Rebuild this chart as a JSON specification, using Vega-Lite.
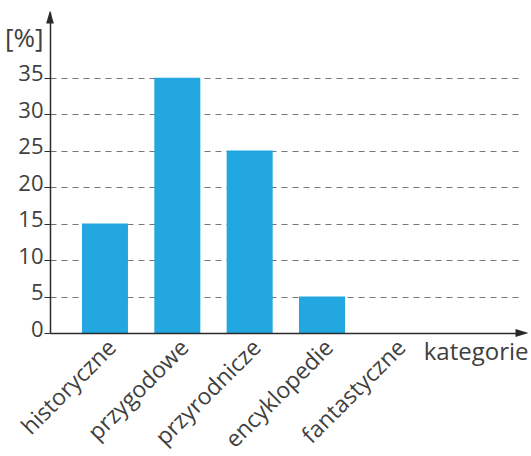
{
  "$schema": "https://vega.github.io/schema/vega-lite/v6.json",
  "width": 472,
  "height": 321,
  "autosize": "none",
  "padding": {"left": 50, "top": 12, "right": 9, "bottom": 123},
  "config": {"view": {"stroke": null}, "font": "Open Sans"},
  "layer": [
    {
      "data": {"values": [
        {"kategoria": "historyczne", "procent": 15},
        {"kategoria": "przygodowe", "procent": 35},
        {"kategoria": "przyrodnicze", "procent": 25},
        {"kategoria": "encyklopedie", "procent": 5},
        {"kategoria": "fantastyczne", "procent": 0}
      ]},
      "mark": {"type": "bar", "color": "#22a7e0"},
      "encoding": {
        "x": {
          "field": "kategoria", "type": "nominal", "sort": null,
          "scale": {"paddingInner": 0.364, "paddingOuter": 0.944, "align": 0.234},
          "axis": {
            "title": "kategorie", "titleAngle": 0, "titleAlign": "right", "titleX": 478, "titleY": 26,
            "titleBaseline": "alphabetic", "titleFontSize": 24, "titleFontWeight": "normal", "titleColor": "#404040",
            "labelAngle": -45, "labelFontSize": 23, "labelColor": "#404040", "ticks": false, "labelPadding": 3,
            "domainColor": "#2a2a2a", "domainWidth": 1.5, "zindex": 1, "grid": false
          }
        },
        "y": {
          "field": "procent", "type": "quantitative",
          "scale": {"domain": [0, 44], "nice": false},
          "axis": {
            "title": "[%]", "titleAngle": 0, "titleAlign": "right", "titleBaseline": "middle", "titleX": -7, "titleY": 26,
            "titleFontSize": 26, "titleFontWeight": "normal", "titleColor": "#404040",
            "values": [0, 5, 10, 15, 20, 25, 30, 35],
            "grid": true, "gridDash": [6, 5], "gridColor": "#777777",
            "labelFontSize": 22, "labelColor": "#404040", "labelPadding": 1, "labelOffset": -4,
            "tickSize": 6, "tickColor": "#2a2a2a", "domainColor": "#2a2a2a", "domainWidth": 1.5
          }
        }
      }
    },
    {
      "data": {"values": [
        {"ax": 0, "ay": 43.3, "kierunek": "up"},
        {"ax": 1, "ay": 0, "kierunek": "right"}
      ]},
      "mark": {"type": "point", "filled": true, "opacity": 1, "color": "#2a2a2a", "size": 169},
      "encoding": {
        "x": {"field": "ax", "type": "quantitative", "scale": {"domain": [0, 1], "nice": false, "zero": false}, "axis": null},
        "y": {"field": "ay", "type": "quantitative"},
        "shape": {
          "field": "kierunek", "type": "nominal",
          "scale": {"domain": ["up", "right"], "range": ["M0,-1L0.6,1L-0.6,1Z", "M1,0L-1,-0.6L-1,0.6Z"]},
          "legend": null
        }
      }
    }
  ],
  "resolve": {"scale": {"x": "independent"}}
}
